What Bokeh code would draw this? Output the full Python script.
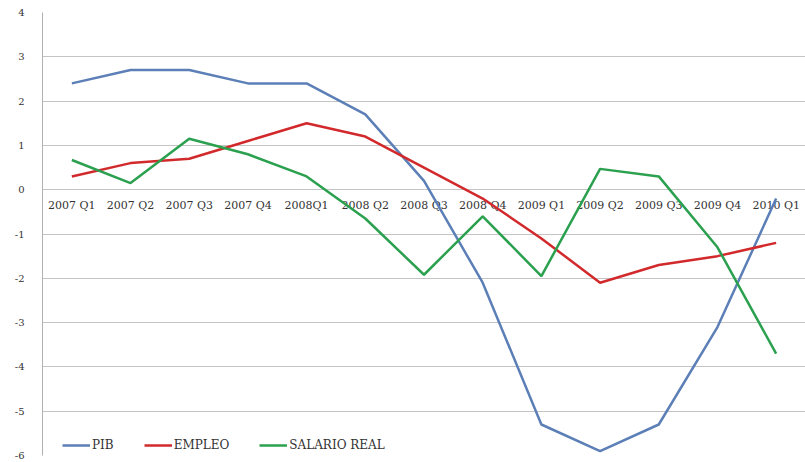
from bokeh.plotting import figure
from bokeh.models import Range1d, FactorRange, FixedTicker, Legend, LegendItem, ColumnDataSource
from bokeh.core.properties import value
from bokeh.embed import file_html
from bokeh.resources import INLINE

quarters = ["2007 Q1", "2007 Q2", "2007 Q3", "2007 Q4", "2008Q1", "2008 Q2", "2008 Q3",
            "2008 Q4", "2009 Q1", "2009 Q2", "2009 Q3", "2009 Q4", "2010 Q1"]
pib = [2.4, 2.7, 2.7, 2.4, 2.4, 1.7, 0.2, -2.1, -5.3, -5.9, -5.3, -3.1, -0.2]
empleo = [0.3, 0.6, 0.7, 1.1, 1.5, 1.2, 0.5, -0.2, -1.1, -2.1, -1.7, -1.5, -1.2]
salario_real = [0.67, 0.15, 1.15, 0.8, 0.3, -0.65, -1.92, -0.6, -1.95, 0.47, 0.3, -1.3, -3.7]
y_ticks = [-6, -5, -4, -3, -2, -1, 0, 1, 2, 3, 4]
series_names = ["PIB", "EMPLEO", "SALARIO REAL"]
colors = ["#5B7FB6", "#D22A2C", "#2BA04F"]

SERIF = "DejaVu Serif"

p = figure(width=805, height=462, output_backend="svg", toolbar_location=None,
           x_range=FactorRange(*quarters), y_range=Range1d(y_ticks[0], y_ticks[-1]),
           min_border_left=42, min_border_right=0, min_border_top=12, min_border_bottom=7)
p.outline_line_color = None
p.background_fill_color = "white"
p.border_fill_color = "white"

p.xaxis.visible = False
p.xgrid.grid_line_color = None
p.ygrid.grid_line_color = "#C4C4C4"
p.ygrid.grid_line_width = 1
p.yaxis.ticker = FixedTicker(ticks=y_ticks)
p.yaxis.major_label_overrides = {t: str(t) for t in y_ticks}
p.yaxis.axis_line_color = "#B0B0B0"
p.yaxis.major_tick_line_color = None
p.yaxis.minor_tick_line_color = None
p.yaxis.major_label_standoff = 12
p.yaxis.major_label_text_font = SERIF
p.yaxis.major_label_text_font_size = "10px"
p.yaxis.major_label_text_color = "#333333"

# category labels at the zero line
src = ColumnDataSource(dict(x=quarters, y=[0] * len(quarters), t=quarters))
p.text(x="x", y="y", text="t", source=src, text_font=value(SERIF), text_font_size="11px",
       text_color="#333333", text_align="center", text_baseline="middle", y_offset=16)

items = []
for name, vals, c in zip(series_names, [pib, empleo, salario_real], colors):
    r = p.line(quarters, vals, line_color=c, line_width=2.5)
    items.append(LegendItem(label=name, renderers=[r]))

legend = Legend(items=items, orientation="horizontal", location=(20, 0),
                padding=5, margin=0, spacing=30, glyph_width=28, label_standoff=2,
                label_text_font=SERIF, label_text_font_size="12px", label_text_color="#333333",
                border_line_color=None, background_fill_alpha=0)
p.add_layout(legend, "center")

open("out.html", "w").write(file_html(p, INLINE))
